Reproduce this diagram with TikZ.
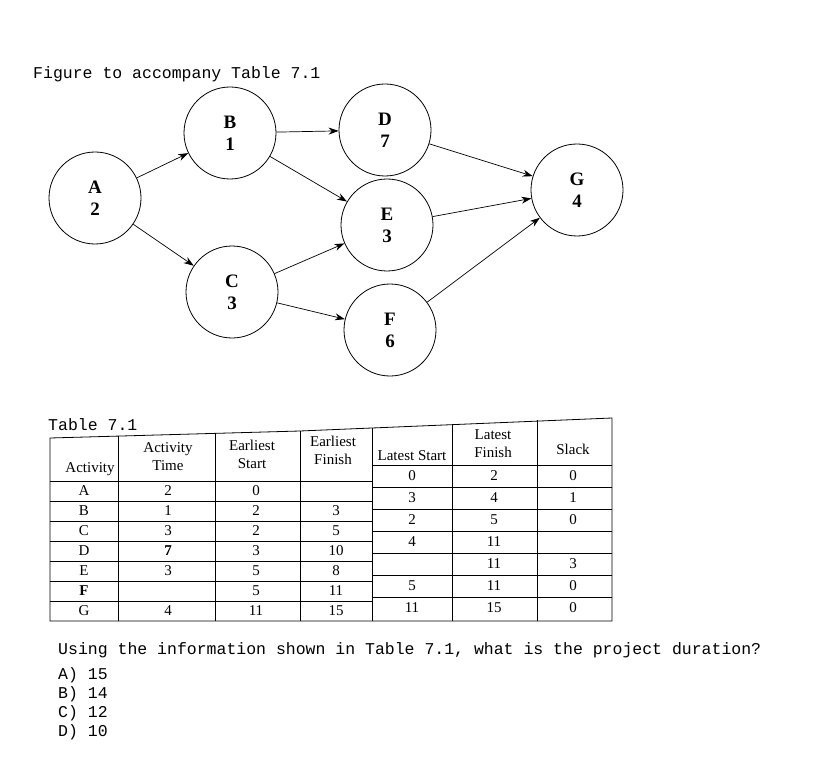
\documentclass[tikz,border=0pt]{standalone}
\usepackage{fontspec}
\setmainfont{Liberation Serif}
\newfontfamily\mono{Liberation Mono}
\usetikzlibrary{arrows.meta}
\begin{document}
\begin{tikzpicture}[x=1pt,y=-1pt,
  circ/.style={circle,draw,line width=0.8pt,minimum size=92pt,inner sep=0pt,align=center,font=\bfseries\fontsize{19}{22}\selectfont},
  arr/.style={-{Stealth[length=10pt,width=7pt]},line width=0.7pt},
  tl/.style={line width=0.8pt},
  tt/.style={font=\fontsize{15}{16}\selectfont,inner sep=0pt},
  mt/.style={font=\mono\fontsize{16.5}{18}\selectfont,inner sep=0pt,anchor=west}]
\fill[white] (0,0) rectangle (821,767);
\node[mt] (title) at (33,74) {Figure to accompany Table 7.1};
\node[circ] (A) at (95,198) {A\\2};
\node[circ] (B) at (230,133) {B\\1};
\node[circ] (C) at (232,292) {C\\3};
\node[circ] (D) at (385,130) {D\\7};
\node[circ] (E) at (387,225) {E\\3};
\node[circ] (F) at (390,330) {F\\6};
\node[circ] (G) at (577,190) {G\\4};
\draw[arr] (A) -- (B); \draw[arr] (A) -- (C);
\draw[arr] (B) -- (D); \draw[arr] (B) -- (E);
\draw[arr] (C) -- (E); \draw[arr] (C) -- (F);
\draw[arr] (D) -- (G); \draw[arr] (E) -- (G); \draw[arr] (F) -- (G);
% table
\node[mt] (tcap) at (48,425) {Table 7.1};
\draw[tl] (50,438) -- (300,431) -- (612,418) -- (612,621) -- (50,621) -- cycle;
\foreach \x/\t in {118/436,215/434,300/431,372/428,452/424,537/420} \draw[tl] (\x,\t) -- (\x,621);
\foreach \k in {0,...,6} \draw[tl] (50,481+20*\k) -- (372,481+20*\k);
\foreach \k in {0,...,6} \draw[tl] (372,465+22*\k) -- (612,465+22*\k);
\node[tt] (h1) at (90,469) {Activity};
\node[tt,align=center] (h2) at (168,457) {Activity\\[2pt]Time};
\node[tt,align=center] (h3) at (252,454) {Earliest\\[2pt]Start};
\node[tt,align=center] (h4) at (333,450) {Earliest\\[2pt]Finish};
\node[tt] (h5) at (412,456) {Latest Start};
\node[tt,align=center] (h6) at (493,444) {Latest\\[2pt]Finish};
\node[tt] (h7) at (573,449) {Slack};
\foreach \a/\t/\es/\ef [count=\i from 0] in {A/2/0/,B/1/2/3,C/3/2/5,D/\textbf{7}/3/10,E/3/5/8,\textbf{F}//5/11,G/4/11/15}{
  \node[tt] at (84,491+20*\i) {\a};
  \node[tt] at (168,491+20*\i) {\t};
  \node[tt] at (256,491+20*\i) {\es};
  \node[tt] at (336,491+20*\i) {\ef};
}
\foreach \ls/\lf/\sl [count=\i from 0] in {0/2/0,3/4/1,2/5/0,4/11/,/11/3,5/11/0,11/15/0}{
  \node[tt] at (412,476+22*\i) {\ls};
  \node[tt] at (494,476+22*\i) {\lf};
  \node[tt] at (573,476+22*\i) {\sl};
}
\node[mt] (q) at (58,650) {Using the information shown in Table 7.1, what is the project duration?};
\node[mt] (o1) at (58,675) {A) 15};
\node[mt] (o2) at (58,694) {B) 14};
\node[mt] (o3) at (58,713) {C) 12};
\node[mt] (o4) at (58,732) {D) 10};
\end{tikzpicture}
\end{document}
